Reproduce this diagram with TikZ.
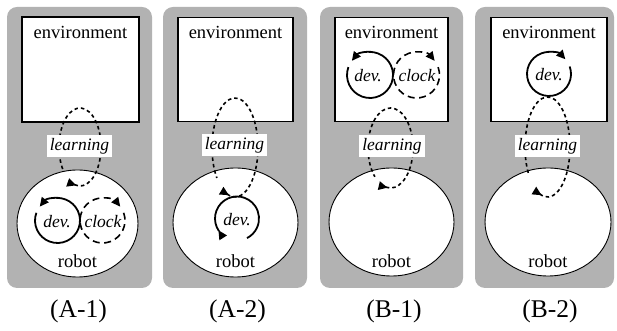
\documentclass[tikz,border=0pt]{standalone}
\usepackage{fontspec}
\setmainfont{Liberation Serif}
\usetikzlibrary{arrows.meta,decorations.markings,calc,shapes.geometric}
\tikzset{
  panel/.style={fill=black!30, draw=none, rounded corners=10pt},
  envbox/.style={draw=black, line width=1.1pt, fill=white, rectangle, inner sep=0pt},
  robotbox/.style={draw=black, line width=0.9pt, fill=white, ellipse, inner sep=0pt},
  bigtext/.style={font=\fontsize{18.5}{20}\selectfont, anchor=base, inner sep=0pt},
  ittext/.style={font=\fontsize{17.5}{19}\selectfont\itshape, inner sep=0pt},
  learnlabel/.style={font=\fontsize{17.5}{19}\selectfont\itshape, fill=white, inner xsep=3pt, inner ysep=3pt},
  caplabel/.style={font=\fontsize{25.5}{27}\selectfont, inner sep=0pt},
  tip/.tip={Triangle[length=9pt,width=8.5pt]},
  learnloop/.style={line width=1.6pt, dash pattern=on 3.5pt off 3pt},
  devloop/.style={line width=1.8pt},
  clockloop/.style={line width=1.6pt, dash pattern=on 7pt off 4.5pt},
  startarrow/.style={postaction={decorate}, decoration={markings, mark=at position 0.01 with {\arrow{Triangle[length=9pt,width=8.5pt]}}}}
}
\begin{document}
\begin{tikzpicture}[x=1pt,y=1pt]
\useasboundingbox (0,0) rectangle (617,331);
% panels
\fill[panel] (7,43) rectangle (152,324);
\fill[panel] (163,43) rectangle (307,324);
\fill[panel] (320,43) rectangle (463,324);
\fill[panel] (475,43) rectangle (614,324);
% environment boxes
\node[envbox, minimum width=117pt, minimum height=105pt] (envA1) at (80.5,261.5) {};
\node[envbox, minimum width=115pt, minimum height=104pt] (envA2) at (235.5,261.5) {};
\node[envbox, minimum width=113pt, minimum height=104pt] (envB1) at (391.5,261.5) {};
\node[envbox, minimum width=116pt, minimum height=104pt] (envB2) at (549,261.5) {};
% robot ellipses
\node[robotbox, minimum width=121pt, minimum height=107pt] (robA1) at (77.5,107.5) {};
\node[robotbox, minimum width=125pt, minimum height=109pt] (robA2) at (235.5,108.5) {};
\node[robotbox, minimum width=125pt, minimum height=108pt] (robB1) at (391.5,109) {};
\node[robotbox, minimum width=126pt, minimum height=108pt] (robB2) at (548,109) {};
% loop centres
\coordinate (lA1) at (80,184);
\coordinate (lA2) at (235,183.5);
\coordinate (lB1) at (390.5,183);
\coordinate (lB2) at (547.5,184);
\coordinate (dA1) at (57.5,110.5);
\coordinate (kA1) at (102.5,110.5);
\coordinate (dA2) at (237,112.5);
\coordinate (dB1) at (370,256);
\coordinate (kB1) at (416.5,256);
\coordinate (dB2) at (549,257);
% learning loops
\draw[learnloop, startarrow] ($(lA1)+(255:21 and 39)$) arc[start angle=255, end angle=578, x radius=21, y radius=39];
\draw[learnloop, startarrow] ($(lA2)+(250:23 and 49.5)$) arc[start angle=250, end angle=578, x radius=23, y radius=49.5];
\draw[learnloop, startarrow] ($(lB1)+(258:22.5 and 40)$) arc[start angle=258, end angle=586, x radius=22.5, y radius=40];
\draw[learnloop, startarrow] ($(lB2)+(250:22.5 and 50)$) arc[start angle=250, end angle=575, x radius=22.5, y radius=50];
% dev / clock loops
\draw[devloop, -tip] ($(dA1)+(160:22.5)$) arc[start angle=160, end angle=502, radius=22.5];
\draw[clockloop, -tip] ($(kA1)+(20:22.5)$) arc[start angle=20, end angle=-322, radius=22.5];
\draw[devloop, startarrow] ($(dA2)+(215:22)$) arc[start angle=215, end angle=-63, radius=22];
\draw[devloop, -tip] ($(dB1)+(160:23)$) arc[start angle=160, end angle=502, radius=23];
\draw[clockloop, -tip] ($(kB1)+(20:23)$) arc[start angle=20, end angle=-322, radius=23];
\draw[devloop, -tip] ($(dB2)+(20:22)$) arc[start angle=20, end angle=-318, radius=22];
% texts
\node[bigtext] (etA1) at (80.5,292.7) {environment};
\node[bigtext] (etA2) at (235.5,292.7) {environment};
\node[bigtext] (etB1) at (391.5,292.7) {environment};
\node[bigtext] (etB2) at (549,292.7) {environment};
\node[bigtext] (rtA1) at (77.5,63.7) {robot};
\node[bigtext] (rtA2) at (235.5,63.7) {robot};
\node[bigtext] (rtB1) at (391.5,63.7) {robot};
\node[bigtext] (rtB2) at (548,63.7) {robot};
\node[learnlabel] (leA1) at (79.5,185) {learning};
\node[learnlabel] (leA2) at (234.5,186) {learning};
\node[learnlabel] (leB1) at (392,185) {learning};
\node[learnlabel] (leB2) at (547.5,185) {learning};
\node[ittext] (dtA1) at (57,109.5) {dev.};
\node[ittext] (ctA1) at (103,109.5) {clock};
\node[ittext] (dtA2) at (237,111) {dev.};
\node[ittext] (dtB1) at (368,255) {dev.};
\node[ittext] (ctB1) at (417,255) {clock};
\node[ittext] (dtB2) at (549,256) {dev.};
% captions
\node[caplabel] (cpA1) at (78.5,20) {(A-1)};
\node[caplabel] (cpA2) at (237.5,20) {(A-2)};
\node[caplabel] (cpB1) at (394,20) {(B-1)};
\node[caplabel] (cpB2) at (550,20) {(B-2)};
\end{tikzpicture}
\end{document}
